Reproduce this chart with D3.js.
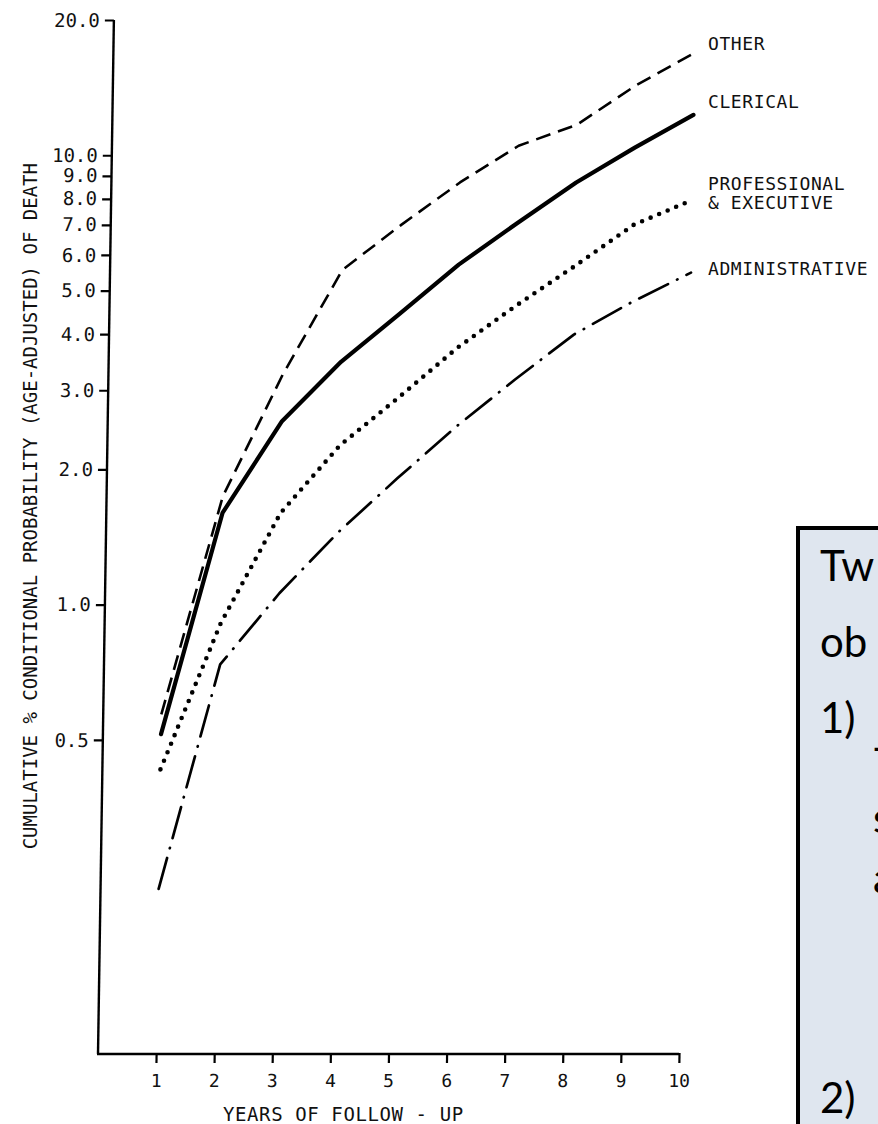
<!DOCTYPE html>
<html><head><meta charset="utf-8">
<script src="https://cdn.jsdelivr.net/npm/d3@7"></script>
<style>body{margin:0;background:#fff;} svg{display:block;}</style>
</head><body>
<script>
// ---- data ----
const years = [1,2,3,4,5,6,7,8,9,10];
const other          = [0.57, 1.74, 3.25, 5.56, 7.0, 8.7, 10.5, 11.7, 14.3, 16.9];
const clerical       = [0.515, 1.60, 2.56, 3.47, 4.44, 5.71, 7.07, 8.7, 10.4, 12.3];
const professional   = [0.43, 0.91, 1.60, 2.26, 2.89, 3.73, 4.63, 5.67, 7.0, 7.95];
const administrative = [0.233, 0.736, 1.06, 1.45, 1.91, 2.49, 3.17, 3.99, 4.72, 5.48];
const seriesLabels = [["OTHER"], ["CLERICAL"], ["PROFESSIONAL", "& EXECUTIVE"], ["ADMINISTRATIVE"]];
const yTickValues = [0.5, 1, 2, 3, 4, 5, 6, 7, 8, 9, 10, 20];
const xTickValues = years;
const yTitle = "CUMULATIVE % CONDITIONAL PROBABILITY (AGE-ADJUSTED) OF DEATH";
const xTitle = "YEARS OF FOLLOW - UP";
const boxLines = ["Tw", "ob", "1)", "2)"];

// ---- setup ----
const W = 878, H = 1124;
const svg = d3.select("body").append("svg").attr("width", W).attr("height", H);
const mono = "'DejaVu Sans Mono', 'Liberation Mono', monospace";

const x = d3.scaleLinear().domain([0, 10]).range([98, 679]);
const y = d3.scaleLog().domain([0.1, 20]).range([1054, 20]);
const Y0 = y(0.1);

// scanned figure is slightly sheared
const g = svg.append("g")
  .attr("transform", `translate(0,${Y0}) skewX(-0.88) translate(0,${-Y0})`);

// y axis
const yAxis = d3.axisLeft(y).tickValues(yTickValues).tickFormat(d3.format(".1f"))
  .tickSize(9).tickPadding(5);
const ya = g.append("g").attr("transform", `translate(${x(0)},0)`).call(yAxis);
ya.select(".domain").remove();
ya.append("line").attr("x1", 0).attr("x2", 0).attr("y1", y(20)).attr("y2", Y0)
  .attr("stroke", "#000").attr("stroke-width", 2.4);
ya.selectAll(".tick line").attr("stroke", "#000").attr("stroke-width", 2.2);
ya.selectAll(".tick text").attr("font-family", mono).attr("font-size", 19)
  .attr("fill", "#111");

// x axis
const xAxis = d3.axisBottom(x).tickValues(xTickValues).tickFormat(d3.format("d"))
  .tickSize(9).tickPadding(11);
const xa = g.append("g").attr("transform", `translate(0,${Y0})`).call(xAxis);
xa.select(".domain").remove();
xa.append("line").attr("x1", x(0) - 1).attr("x2", x(10)).attr("y1", 0).attr("y2", 0)
  .attr("stroke", "#000").attr("stroke-width", 2.4);
xa.selectAll(".tick line").attr("stroke", "#000").attr("stroke-width", 2.2);
xa.selectAll(".tick text").attr("font-family", mono).attr("font-size", 18)
  .attr("fill", "#111");
xa.select(".tick:last-of-type line").attr("y1", -1);

// x title
svg.append("text").attr("x", 223).attr("y", 1121)
  .attr("font-family", mono).attr("font-size", 19).attr("letter-spacing", 0.6)
  .attr("fill", "#111").text(xTitle);

// y title
svg.append("text").attr("transform", "translate(37,163) rotate(-90)")
  .attr("text-anchor", "end")
  .attr("font-family", mono).attr("font-size", 19).attr("fill", "#111")
  .text(yTitle);

// series
const line = d3.line().x((d, i) => x(years[i])).y(d => y(d));
const styles = [
  {data: other, width: 2.6, dash: "15,8", cap: "butt"},
  {data: clerical, width: 4.2, dash: null, cap: "round"},
  {data: professional, width: 4.6, dash: "0,9.2", cap: "round"},
  {data: administrative, width: 2.7, dash: "32,10,0.5,10", cap: "round"}
];
styles.forEach(s => {
  g.append("path").datum(s.data).attr("d", line)
    .attr("fill", "none").attr("stroke", "#000")
    .attr("stroke-width", s.width)
    .attr("stroke-dasharray", s.dash)
    .attr("stroke-linecap", s.cap)
    .attr("stroke-linejoin", "round");
});

// series labels (placed near the line ends)
const ends = [other, clerical, professional, administrative].map(a => a[a.length - 1]);
const labelDy = [-3, -7, -10, 2];
seriesLabels.forEach((lines, i) => {
  const t = svg.append("text")
    .attr("font-family", mono).attr("font-size", 18).attr("letter-spacing", 0.6)
    .attr("fill", "#111");
  lines.forEach((ln, j) => {
    t.append("tspan").attr("x", x(10) + 29)
      .attr("y", y(ends[i]) + labelDy[i] + j * 19).text(ln);
  });
});

// partially visible text box on the right
const box = svg.append("g");
box.append("rect").attr("x", 798).attr("y", 528).attr("width", 120).attr("height", 640)
  .attr("fill", "#dfe6ef").attr("stroke", "#000").attr("stroke-width", 4);
const boxFont = "Lato, 'Open Sans', sans-serif";
const boxY = [581, 657, 733, 1113];
boxLines.forEach((t, i) => {
  box.append("text").attr("x", 820).attr("y", boxY[i])
    .attr("font-family", boxFont).attr("font-size", 42).attr("fill", "#000").text(t);
});
box.append("text").attr("x", 873).attr("y", 833).attr("font-family", boxFont)
  .attr("font-size", 42).attr("fill", "#000").text("s");
box.append("text").attr("x", 873).attr("y", 893).attr("font-family", boxFont)
  .attr("font-size", 42).attr("fill", "#000").text("a");
box.append("text").attr("x", 872).attr("y", 762).attr("font-family", boxFont)
  .attr("font-size", 42).attr("fill", "#000").text("-");
</script>
</body></html>
